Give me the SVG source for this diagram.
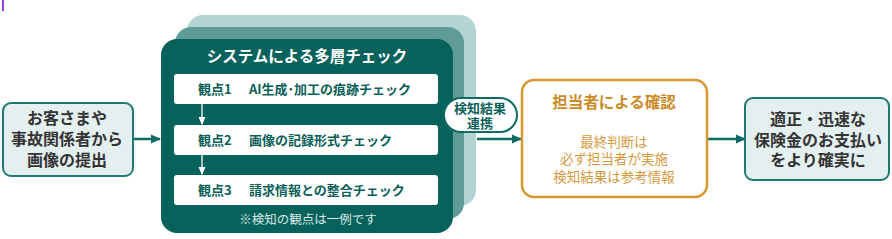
<svg xmlns="http://www.w3.org/2000/svg" width="892" height="239" viewBox="0 0 892 239">
<style>
text{font-family:"Noto Sans CJK JP","Noto Sans",sans-serif;}
.big{font-size:16px;font-weight:bold;fill:#333;text-anchor:middle;}
.pt{font-size:13px;font-weight:bold;fill:#0b5f59;}
.conn{stroke:#0e6b64;stroke-width:2.5;fill:none;}
.small{stroke:#ffffff;stroke-width:1.3;fill:none;}
</style>
<defs>
<marker id="ah" markerWidth="10" markerHeight="10" refX="9" refY="5" orient="auto" markerUnits="userSpaceOnUse">
<path d="M0,0.5 L10,5 L0,9.5 Z" fill="#0e6b64"/>
</marker>
<marker id="aw" markerWidth="8" markerHeight="8" refX="7" refY="4" orient="auto" markerUnits="userSpaceOnUse">
<path d="M0,0.5 L8,4 L0,7.5 Z" fill="#ffffff"/>
</marker>
</defs>
<rect width="892" height="239" fill="#ffffff"/>
<rect x="2" y="0" width="2" height="11" fill="#9b3fe0"/>

<g id="connectors">
<line class="conn" x1="133" y1="139" x2="160" y2="139" marker-end="url(#ah)"/>
<line class="conn" x1="477" y1="139" x2="521" y2="139" marker-end="url(#ah)"/>
<line class="conn" x1="707" y1="139" x2="745" y2="139" marker-end="url(#ah)"/>
</g>

<g id="node-submit">
<rect x="3" y="103" width="130" height="73" rx="8" fill="#e4efef" stroke="#1f7872" stroke-width="2"/>
<text class="big" x="67" y="124">お客さまや</text>
<text class="big" x="67" y="145">事故関係者から</text>
<text class="big" x="67" y="166">画像の提出</text>
</g>

<g id="node-system">
<rect x="187" y="15" width="289" height="191" rx="16" fill="#b4d4d3"/>
<rect x="175" y="27" width="289" height="192" rx="16" fill="#5f9c97"/>
<rect x="161" y="39" width="292" height="194" rx="16" fill="#07625c"/>
<text x="307" y="62" font-size="15.5" font-weight="bold" fill="#ffffff" text-anchor="middle">システムによる多層チェック</text>
<rect x="174" y="74" width="264" height="30" rx="3" fill="#ffffff"/>
<rect x="174" y="125" width="264" height="30" rx="3" fill="#ffffff"/>
<rect x="174" y="175" width="264" height="30" rx="3" fill="#ffffff"/>
<line class="small" x1="202" y1="104" x2="202" y2="124" marker-end="url(#aw)"/>
<line class="small" x1="202" y1="155" x2="202" y2="174" marker-end="url(#aw)"/>
<text class="pt" x="198" y="94">観点1</text>
<text class="pt" x="249" y="94">AI生成･加工の痕跡チェック</text>
<text class="pt" x="198" y="145">観点2</text>
<text class="pt" x="249" y="145">画像の記録形式チェック</text>
<text class="pt" x="198" y="195">観点3</text>
<text class="pt" x="249" y="195">請求情報との整合チェック</text>
<text x="308" y="224" font-size="12.5" fill="#d6e8e6" text-anchor="middle">※検知の観点は一例です</text>
</g>

<g id="label-link">
<rect x="444" y="98" width="73" height="34" rx="17" fill="#ffffff" stroke="#0e6b64" stroke-width="2"/>
<text x="480" y="113" font-size="13" font-weight="bold" fill="#0b5f59" text-anchor="middle">検知結果</text>
<text x="480" y="128" font-size="13" font-weight="bold" fill="#0b5f59" text-anchor="middle">連携</text>
</g>

<g id="node-confirm">
<rect x="522" y="80" width="185" height="117" rx="12" fill="#ffffff" stroke="#d9982f" stroke-width="2.5"/>
<text x="614" y="108" font-size="15.5" font-weight="bold" fill="#cc8a25" text-anchor="middle">担当者による確認</text>
<text x="614" y="147" font-size="13.5" fill="#d69a3e" text-anchor="middle">最終判断は</text>
<text x="614" y="164" font-size="13.5" fill="#d69a3e" text-anchor="middle">必ず担当者が実施</text>
<text x="614" y="182" font-size="13.5" fill="#d69a3e" text-anchor="middle">検知結果は参考情報</text>
</g>

<g id="node-result">
<rect x="745" y="98" width="144" height="82" rx="8" fill="#e4efef" stroke="#1f7872" stroke-width="2"/>
<text class="big" x="818" y="125">適正・迅速な</text>
<text class="big" x="818" y="146">保険金のお支払い</text>
<text class="big" x="818" y="166">をより確実に</text>
</g>
</svg>
